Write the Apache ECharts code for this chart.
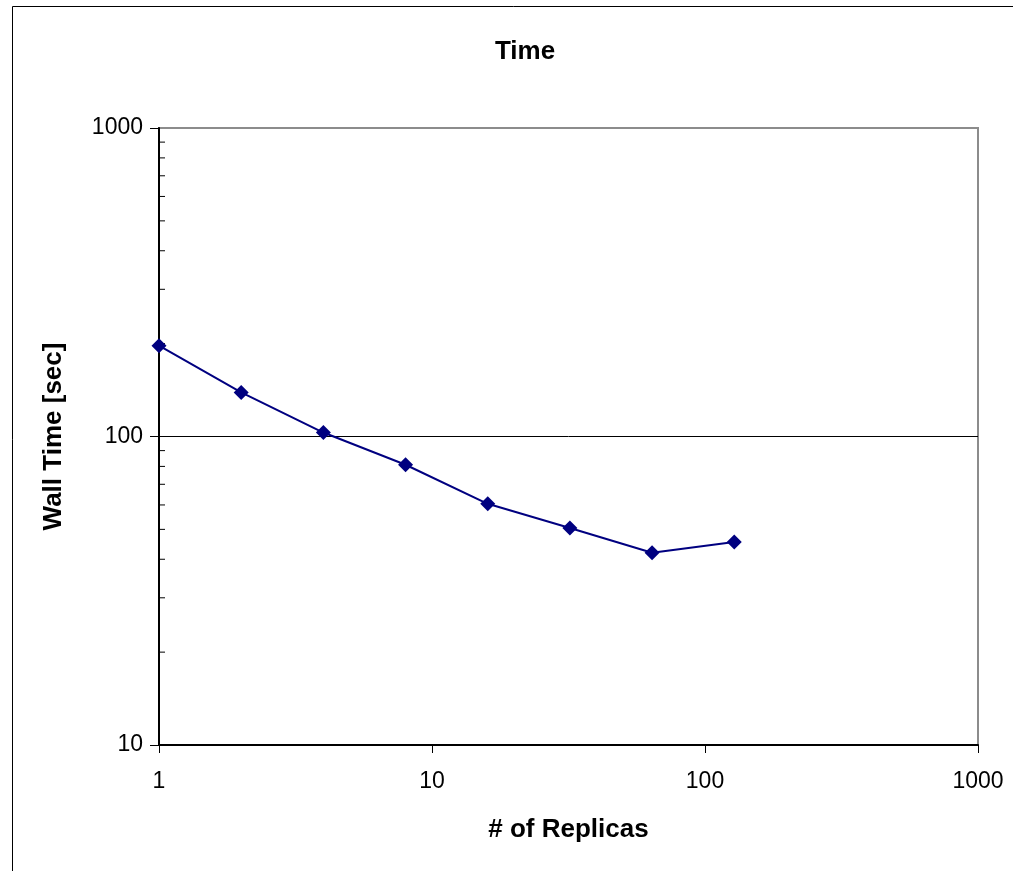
<!DOCTYPE html>
<html>
<head>
<meta charset="utf-8">
<script src="https://cdn.jsdelivr.net/npm/echarts@6/dist/echarts.min.js"></script>
<style>
  html, body { margin: 0; padding: 0; background: #fff; }
  #main { width: 1013px; height: 871px; }
</style>
</head>
<body>
<div id="main"></div>
<script>
// replicas vs wall time
var replicas = [1, 2, 4, 8, 16, 32, 64, 128];
var wallTime = [197, 139, 103, 81, 60.5, 50.5, 42, 45.5];
// minor ticks drawn on the log y axis
var minorTickValues = [20, 30, 40, 50, 60, 70, 80, 90, 200, 300, 400, 500, 600, 700, 800, 900];

var FONT = '"Liberation Sans", Arial, sans-serif';

var chartDom = document.getElementById('main');
var myChart = echarts.init(chartDom);
var option = {
    animation: false,
    backgroundColor: '#fff',
    title: {
        text: 'Time',
        left: 520,
        textAlign: 'center',
        top: 34,
        textStyle: { fontFamily: FONT, fontSize: 26, fontWeight: 'bold', color: '#000' }
    },
    graphic: [{
        type: 'rect',
        shape: { x: 12.5, y: 6.5, width: 1100, height: 1000 },
        style: { fill: null, stroke: '#000', lineWidth: 1 },
        silent: true
    }],
    grid: {
        left: 159, right: 35, top: 128, bottom: 126,
        show: true,
        borderColor: '#8c8c8c',
        borderWidth: 2,
        backgroundColor: '#fff'
    },
    xAxis: {
        type: 'log',
        logBase: 10,
        min: 1,
        max: 1000,
        name: '# of Replicas',
        nameLocation: 'middle',
        nameGap: 72,
        nameTextStyle: { fontFamily: FONT, fontSize: 26, fontWeight: 'bold', color: '#000' },
        axisLine: { onZero: false, lineStyle: { color: '#000', width: 2 } },
        axisTick: { show: true, length: 8, inside: false, lineStyle: { color: '#000' } },
        axisLabel: {
            fontFamily: FONT, fontSize: 23, color: '#000', margin: 25,
            formatter: function (v) { return String(Math.round(v)); }
        },
        splitLine: { show: false }
    },
    yAxis: {
        type: 'log',
        logBase: 10,
        min: 10,
        max: 1000,
        name: 'Wall Time [sec]',
        nameLocation: 'middle',
        nameGap: 92,
        nameTextStyle: { fontFamily: FONT, fontSize: 26, fontWeight: 'bold', color: '#000' },
        axisLine: { onZero: false, lineStyle: { color: '#000', width: 2 } },
        axisTick: { show: true, length: 9, inside: false, lineStyle: { color: '#000' } },
        axisLabel: {
            fontFamily: FONT, fontSize: 23, color: '#000', margin: 16,
            formatter: function (v) { return String(Math.round(v)); }
        },
        splitLine: { show: true, showMinLine: false, showMaxLine: false, lineStyle: { color: '#000', width: 1 } }
    },
    series: [
        {
            type: 'custom',
            silent: true,
            data: minorTickValues.map(function (v) { return [1, v]; }),
            renderItem: function (params, api) {
                var p = api.coord([api.value(0), api.value(1)]);
                return {
                    type: 'line',
                    shape: { x1: p[0], y1: p[1], x2: p[0] + 6, y2: p[1] },
                    style: { stroke: '#000', lineWidth: 1 }
                };
            },
            clip: false,
            z: 1
        },
        {
            type: 'line',
            data: replicas.map(function (r, i) { return [r, wallTime[i]]; }),
            symbol: 'diamond',
            symbolSize: 15,
            lineStyle: { color: '#000080', width: 2 },
            itemStyle: { color: '#000080' },
            z: 3
        }
    ]
};
myChart.setOption(option);
</script>
</body>
</html>
